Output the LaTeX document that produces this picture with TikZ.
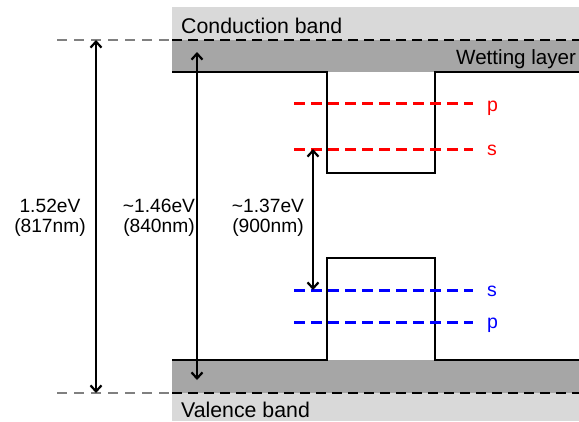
\documentclass[tikz,border=0pt]{standalone}
\usepackage{fontspec}
\setmainfont{Liberation Sans}
\usetikzlibrary{arrows.meta}
\definecolor{lightband}{HTML}{D9D9D9}
\definecolor{darkband}{HTML}{A6A6A6}
\definecolor{guidegray}{HTML}{808080}
\tikzset{
  bandtxt/.style={font=\fontsize{21.3}{24}\selectfont, inner sep=0pt, anchor=base west},
  numtxt/.style={font=\fontsize{19.2}{22}\selectfont, inner sep=0pt, anchor=base},
  lvltxt/.style={font=\fontsize{19.5}{22}\selectfont, inner sep=0pt, anchor=base west},
  profile/.style={line width=2.2pt, line join=miter},
  banddash/.style={line width=2.5pt, dash pattern=on 10pt off 6pt},
  guidedash/.style={line width=2.5pt, guidegray, dash pattern=on 10pt off 7pt},
  leveldash/.style={line width=3pt, dash pattern=on 11pt off 6pt},
  gaparrow/.style={line width=2.2pt, {Straight Barb[length=6pt,width=11pt,line width=2.2pt]}-{Straight Barb[length=6pt,width=11pt,line width=2.2pt]}}
}
\begin{document}
\begin{tikzpicture}[x=1pt,y=-1pt]
\useasboundingbox (0,0) rectangle (579,421);
% bands
\fill[lightband] (172,7) rectangle (579,40);
\fill[darkband] (172,40) rectangle (579,72);
\fill[darkband] (172,360) rectangle (579,393);
\fill[lightband] (172,393) rectangle (579,421);
% band edges
\coordinate (cbl) at (172,40);
\coordinate (cbr) at (579,40);
\coordinate (vbl) at (172,393);
\coordinate (vbr) at (579,393);
\coordinate (gl1) at (57,40);
\coordinate (gl2) at (57,393);
\draw[banddash] (cbl) -- (cbr);
\draw[banddash] (vbl) -- (vbr);
\draw[guidedash] (gl1) -- (cbl);
\draw[guidedash] (gl2) -- (vbl);
% potential profiles
\coordinate (c0) at (172,72);
\coordinate (c1) at (327,72);
\coordinate (c2) at (327,173);
\coordinate (c3) at (435,173);
\coordinate (c4) at (435,72);
\coordinate (c5) at (579,72);
\draw[profile] (c0) -- (c1) -- (c2) -- (c3) -- (c4) -- (c5);
\coordinate (v0) at (172,360);
\coordinate (v1) at (327,360);
\coordinate (v2) at (327,258);
\coordinate (v3) at (435,258);
\coordinate (v4) at (435,360);
\coordinate (v5) at (579,360);
\draw[profile] (v0) -- (v1) -- (v2) -- (v3) -- (v4) -- (v5);
% confined levels
\coordinate (ep1) at (294,103); \coordinate (ep2) at (473,103);
\coordinate (es1) at (294,149); \coordinate (es2) at (473,149);
\coordinate (hs1) at (294,290); \coordinate (hs2) at (473,290);
\coordinate (hp1) at (294,322); \coordinate (hp2) at (473,322);
\draw[leveldash, red] (ep1) -- (ep2);
\draw[leveldash, red] (es1) -- (es2);
\draw[leveldash, blue] (hs1) -- (hs2);
\draw[leveldash, blue] (hp1) -- (hp2);
% arrows
\coordinate (a1t) at (96,40);  \coordinate (a1b) at (96,393);
\coordinate (a2t) at (197,52); \coordinate (a2b) at (197,380);
\coordinate (a3t) at (313,149); \coordinate (a3b) at (313,290);
\draw[gaparrow] (a1t) -- (a1b);
\draw[gaparrow] (a2t) -- (a2b);
\draw[gaparrow] (a3t) -- (a3b);
% labels
\node[bandtxt] (cb) at (181,33) {Conduction band};
\node[bandtxt, font=\fontsize{20.6}{24}\selectfont] (wl) at (456,64) {Wetting layer};
\node[bandtxt] (vb) at (181,417) {Valence band};
\node[numtxt] (n1a) at (50,212) {1.52eV};
\node[numtxt] (n1b) at (50,232) {(817nm)};
\node[numtxt] (n2a) at (159,212) {\textasciitilde1.46eV};
\node[numtxt] (n2b) at (159,232) {(840nm)};
\node[numtxt] (n3a) at (268,212) {\textasciitilde1.37eV};
\node[numtxt] (n3b) at (268,232) {(900nm)};
\node[lvltxt, red] (lp) at (487,111) {p};
\node[lvltxt, red] (ls) at (487,155) {s};
\node[lvltxt, blue] (hs) at (487,296) {s};
\node[lvltxt, blue] (hp) at (487,328) {p};
\end{tikzpicture}
\end{document}
